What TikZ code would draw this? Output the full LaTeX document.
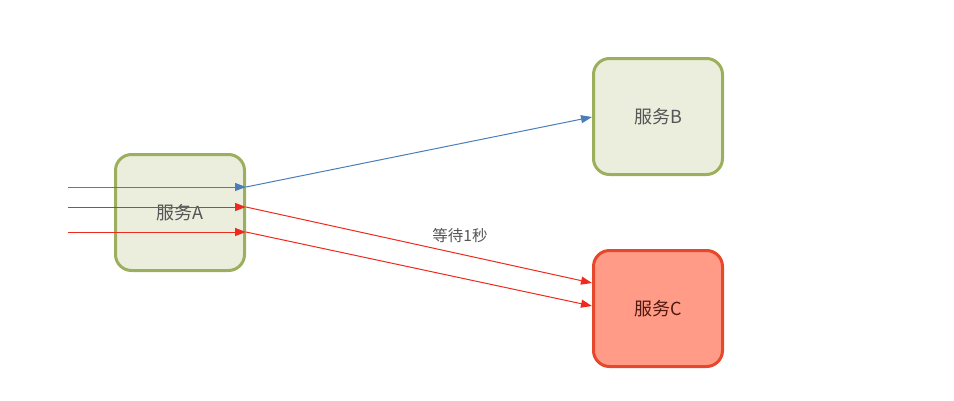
\documentclass[tikz,border=0pt]{standalone}
\usepackage{fontspec}
\newfontfamily\cjk{Noto Sans CJK SC}
\usetikzlibrary{arrows.meta}
\definecolor{gfill}{HTML}{EBEDDD}
\definecolor{gline}{HTML}{9BAF5C}
\definecolor{rfill}{HTML}{FF9B86}
\definecolor{rline}{HTML}{E5482A}
\definecolor{bline}{HTML}{4A7EBB}
\definecolor{redl}{HTML}{EE2A1E}
\definecolor{txt}{HTML}{555555}
\tikzset{
  svc/.style={draw=gline, fill=gfill, line width=3pt, rounded corners=16pt,
    minimum width=129pt, minimum height=116pt, inner sep=0pt,
    font=\cjk\fontsize{18}{20}\selectfont, text=txt},
  svcred/.style={svc, draw=rline, fill=rfill, text=black!65!rline},
  bluearr/.style={draw=bline, line width=1pt, -{Triangle[length=11pt,width=8pt]}},
  redarr/.style={draw=redl, line width=1pt, -{Triangle[length=11pt,width=8pt]}},
  lbl/.style={font=\cjk\fontsize{15.5}{17}\selectfont, text=txt}
}
\begin{document}
\begin{tikzpicture}[x=1pt,y=-1pt]
\useasboundingbox (0,0) rectangle (954,400);
\node[svc] (A) at (180,212.5) {服务A};
\node[svc] (B) at (658,116.5) {服务B};
\node[svcred] (C) at (658,308.5) {服务C};
\coordinate (s1) at (68,187);
\coordinate (s2) at (68,207);
\coordinate (s3) at (68,232);
\coordinate (e1) at (246,187);
\coordinate (e2) at (246,207);
\coordinate (e3) at (246,232);
\coordinate (b1) at (592,117);
\coordinate (c1) at (592,283);
\coordinate (c2) at (592,306);
\draw[bluearr] (s1) -- (e1);
\draw[redarr] (s2) -- (e2);
\draw[redarr] (s3) -- (e3);
\draw[bluearr] (e1) -- (b1);
\draw[redarr] (e2) -- (c1);
\draw[redarr] (e3) -- (c2);
\node[lbl] (w) at (460,236) {等待1秒};
\end{tikzpicture}
\end{document}
